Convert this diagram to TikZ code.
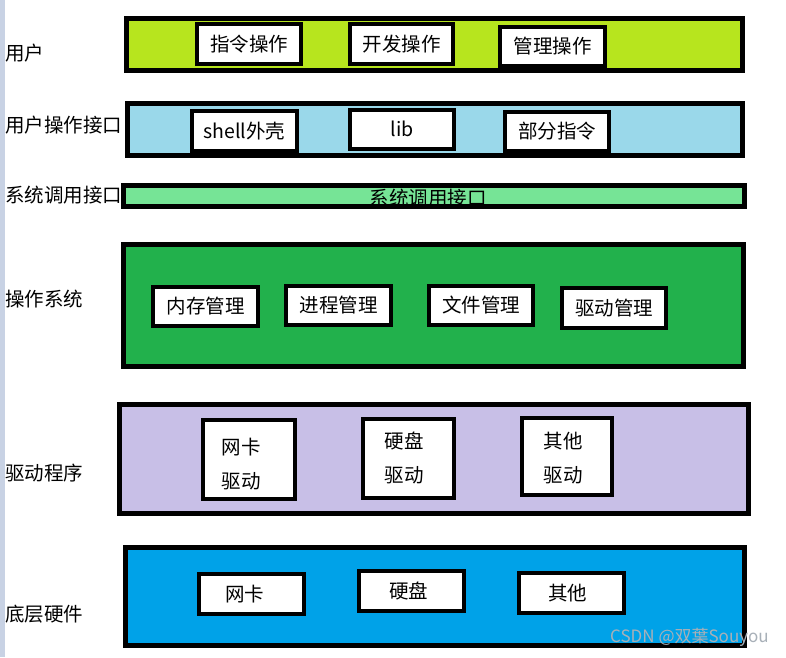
\documentclass[tikz,border=0pt]{standalone}
\usepackage{fontspec}
\setmainfont{Noto Sans CJK SC}
\begin{document}
\begin{tikzpicture}[x=1pt,y=-1pt,
  txt/.style={font=\fontsize{19.5}{34}\selectfont, inner sep=0pt},
  layer/.style={draw=black, line width=5pt, inner sep=0pt},
  ibox/.style={draw=black, line width=4pt, fill=white, inner sep=0pt, font=\fontsize{19.5}{34}\selectfont},
  lbl/.style={txt, anchor=west}]
\definecolor{cUser}{HTML}{B7E51E}
\definecolor{cApi}{HTML}{9AD8EA}
\definecolor{cSys}{HTML}{76E496}
\definecolor{cOs}{HTML}{22B14C}
\definecolor{cDrv}{HTML}{C8BFE7}
\definecolor{cHw}{HTML}{00A2E8}
\definecolor{cStripe}{HTML}{C8D2E4}
\definecolor{cMark}{HTML}{A8B0B8}
\useasboundingbox (0,0) rectangle (786,657);
\fill[white] (0,0) rectangle (786,657);
\fill[cStripe] (0,0) rectangle (5,657);
% layers
\node[layer, fill=cUser, minimum width=616, minimum height=52] (L1) at (434.5,44.5) {};
\node[layer, fill=cApi, minimum width=615, minimum height=52] (L2) at (435,129.5) {};
\node[layer, fill=cSys, minimum width=621, minimum height=21] (L3) at (434,196) {};
\node[layer, fill=cOs, minimum width=620, minimum height=122] (L4) at (433.5,305.5) {};
\node[layer, fill=cDrv, minimum width=629, minimum height=109] (L5) at (434,459) {};
\node[layer, fill=cHw, minimum width=619, minimum height=98] (L6) at (435,596.5) {};
% left labels
\node[lbl] (t1) at (5,53) {用户};
\node[lbl] (t2) at (5,125) {用户操作接口};
\node[lbl] (t3) at (5,195) {系统调用接口};
\node[lbl] (t4) at (5,299) {操作系统};
\node[lbl] (t5) at (5,473) {驱动程序};
\node[lbl] (t6) at (5,614) {底层硬件};
% user
\node[ibox, minimum width=104, minimum height=40] (a1) at (249,44) {指令操作};
\node[ibox, minimum width=103, minimum height=40] (a2) at (401.5,44) {开发操作};
\node[ibox, minimum width=105, minimum height=39] (a3) at (552.5,46.5) {管理操作};
% api
\node[ibox, minimum width=105, minimum height=40] (b1) at (244.5,131) {shell外壳};
\node[ibox, minimum width=104, minimum height=39] (b2) at (402,129.5) {\raisebox{1.5pt}{lib}};
\node[ibox, minimum width=104, minimum height=39] (b3) at (557,131.5) {部分指令};
% syscall
\node[txt] (c1) at (428,198) {系统调用接口};
% os
\node[ibox, minimum width=105, minimum height=39] (d1) at (205.5,306.5) {内存管理};
\node[ibox, minimum width=105, minimum height=39] (d2) at (338.5,305.5) {进程管理};
\node[ibox, minimum width=104, minimum height=39] (d3) at (481,305.5) {文件管理};
\node[ibox, minimum width=104, minimum height=40] (d4) at (614,308) {驱动管理};
% drivers
\node[ibox, minimum width=92, minimum height=79] (e1) at (249,459.5) {};
\node[ibox, minimum width=91, minimum height=79] (e2) at (408.5,458.5) {};
\node[ibox, minimum width=90, minimum height=77] (e3) at (567,456.5) {};
\node[txt, align=left] (e1t) at (241,464) {网卡\\驱动};
\node[txt, align=left] (e2t) at (404,457.5) {硬盘\\驱动};
\node[txt, align=left] (e3t) at (563,458.5) {其他\\驱动};
% hardware
\node[ibox, minimum width=105, minimum height=40] (f1) at (251.5,594) {\hspace*{-14pt}网卡};
\node[ibox, minimum width=105, minimum height=40] (f2) at (411.5,591) {\hspace*{-6pt}硬盘};
\node[ibox, minimum width=105, minimum height=40] (f3) at (571.5,593) {\hspace*{-8pt}其他};
% watermark
\node[font=\fontsize{17}{20}\selectfont, text=cMark, inner sep=0pt, anchor=west] (wm) at (610,637) {CSDN @双葉Souyou};
\end{tikzpicture}
\end{document}
